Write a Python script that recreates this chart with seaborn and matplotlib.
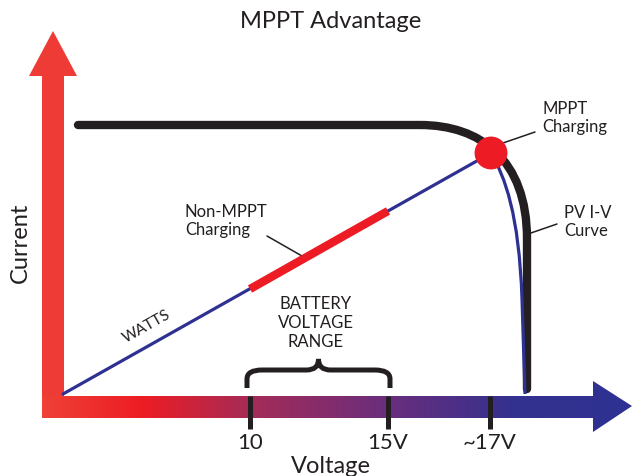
import numpy as np
import seaborn as sns
from matplotlib import pyplot as plt
from matplotlib.colors import LinearSegmentedColormap
from matplotlib.patches import Polygon, PathPatch
from matplotlib.path import Path

# diagram units: origin at the corner of the axes arrows, 1 unit ~ 1 px
watts_x = [0, 428]
watts_y = [0, 241]
non_mppt_x = [187, 325]
non_mppt_y = [105, 183]
mppt_point = (428, 241)

# PV I-V curve: flat part, knee (bezier control points), vertical drop
iv_pts = [(15, 269), (357, 269), (417, 269), (464, 235), (464, 155), (464, 5)]
iv_codes = [Path.MOVETO, Path.LINETO, Path.CURVE4, Path.CURVE4, Path.CURVE4, Path.LINETO]
# power curve past the MPP
pw_pts = [(428, 241), (442, 217), (456, 180), (459, 95), (462, 0)]
pw_codes = [Path.MOVETO, Path.CURVE4, Path.CURVE4, Path.CURVE4, Path.LINETO]

tick_x = [187, 325, 427]
tick_labels = ["10", "15V", "~17V"]
brace_left, brace_right = 184, 327

RED = "#EF3B36"
BLUE = "#2E3192"
DARK = "#231F20"
BRIGHT_RED = "#ED1C24"


def main():
    sns.set_theme(style="white")
    plt.rcParams["font.family"] = ["Lato", "DejaVu Sans"]

    fig = plt.figure(figsize=(6.32, 4.77), dpi=100)
    ax = fig.add_axes([0, 0, 1, 1])
    ax.set_xlim(-63, 569)
    ax.set_ylim(-82, 395)
    ax.axis("off")

    # current axis arrow (solid red)
    v_arrow = Polygon([(-21, -24), (-21, 318), (-34, 318), (-10, 363),
                       (14, 318), (1, 318), (1, -24)],
                      closed=True, facecolor=RED, edgecolor="none", zorder=1)
    ax.add_patch(v_arrow)

    # voltage axis arrow with red -> blue gradient
    h_arrow = Polygon([(-21, -2), (530, -2), (530, 13), (569, -12),
                       (530, -38), (530, -24), (-21, -24)],
                      closed=True, facecolor="none", edgecolor="none", zorder=1)
    ax.add_patch(h_arrow)
    cmap = LinearSegmentedColormap.from_list(
        "axis_grad",
        [(0.0, "#EF4136"), (0.17, BRIGHT_RED), (0.35, "#A62B57"),
         (0.58, "#6B2E7C"), (0.8, "#34318F"), (1.0, BLUE)],
    )
    grad = np.linspace(0, 1, 512).reshape(1, -1)
    im = ax.imshow(grad, cmap=cmap, extent=(-21, 569, -38, 13),
                   aspect="auto", zorder=1, interpolation="bilinear")
    im.set_clip_path(h_arrow)

    # voltage ticks
    for x, lab in zip(tick_x, tick_labels):
        ax.plot([x, x], [-2, -35], color=DARK, lw=3.6, solid_capstyle="butt", zorder=2)
        ax.text(x, -48, lab, ha="center", va="center", fontsize=16, color=DARK)

    # PV I-V curve
    ax.add_patch(PathPatch(Path(iv_pts, iv_codes), facecolor="none", edgecolor=DARK,
                           lw=6, capstyle="round", zorder=3))
    # power line + drop after MPP
    sns.lineplot(x=watts_x, y=watts_y, ax=ax, color=BLUE, linewidth=2.3,
                 sort=False, zorder=4)
    ax.add_patch(PathPatch(Path(pw_pts, pw_codes), facecolor="none", edgecolor=BLUE,
                           lw=2.3, zorder=4))
    sns.lineplot(x=non_mppt_x, y=non_mppt_y, ax=ax, color=BRIGHT_RED, linewidth=6,
                 sort=False, solid_capstyle="butt", zorder=5)
    sns.scatterplot(x=[mppt_point[0]], y=[mppt_point[1]], ax=ax, s=560,
                    color=BRIGHT_RED, edgecolor="none", zorder=6)

    # battery voltage brace
    mid = (brace_left + brace_right) / 2
    brace = [(brace_left, 6), (brace_left, 15), (brace_left, 24), (brace_left + 15, 24),
             (mid - 12, 24), (mid, 24), (mid, 35),
             (mid, 24), (mid + 12, 24),
             (brace_right - 15, 24), (brace_right, 24), (brace_right, 15), (brace_right, 6)]
    codes = [Path.MOVETO, Path.LINETO, Path.CURVE3, Path.CURVE3,
             Path.LINETO, Path.CURVE3, Path.CURVE3,
             Path.CURVE3, Path.CURVE3,
             Path.LINETO, Path.CURVE3, Path.CURVE3, Path.LINETO]
    ax.add_patch(PathPatch(Path(brace, codes), facecolor="none", edgecolor=DARK,
                           lw=3.6, zorder=3))

    # labels
    txt = dict(color=DARK)
    ax.text(268, 373, "MPPT Advantage", ha="center", va="center", fontsize=17, **txt)
    ax.text(-43, 152, "Current", ha="center", va="center", rotation=90, fontsize=17, **txt)
    ax.text(268, -78, "Voltage", ha="center", va="baseline", fontsize=17, **txt)
    ax.text(253, 72, "BATTERY\nVOLTAGE\nRANGE", ha="center", va="center",
            fontsize=12, linespacing=1.2, **txt)
    ax.text(84, 68, "WATTS", ha="center", va="center", rotation=29.4,
            rotation_mode="anchor", fontsize=11, **txt)
    ax.text(122, 174, "Non-MPPT\nCharging", ha="left", va="center",
            fontsize=12, linespacing=1.2, **txt)
    ax.text(479, 277, "MPPT\nCharging", ha="left", va="center",
            fontsize=12, linespacing=1.2, **txt)
    ax.text(501, 173, "PV I-V\nCurve", ha="left", va="center",
            fontsize=12, linespacing=1.2, **txt)

    # leader lines
    for (x0, y0), (x1, y1) in [((204, 158), (239, 138)),
                               ((440, 251), (472, 262)),
                               ((465, 160), (494, 170))]:
        ax.plot([x0, x1], [y0, y1], color=DARK, lw=1.1, zorder=2)

    fig.savefig("out.png", dpi=100)


if __name__ == "__main__":
    main()
